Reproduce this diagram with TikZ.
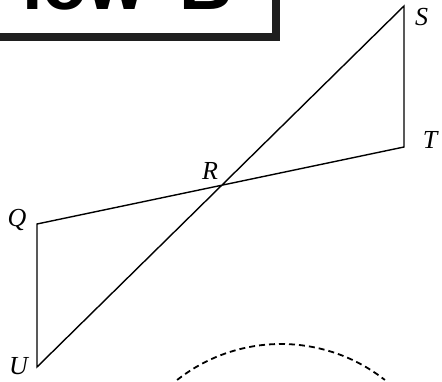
\documentclass[tikz,border=0pt]{standalone}
\usepackage{fontspec}
\setmainfont{Liberation Serif}
\newfontfamily\bannerfont{Liberation Sans}
\begin{document}
\begin{tikzpicture}[x=1pt,y=1pt,
  edge/.style={line width=1.4pt, line join=miter},
  vlabel/.style={font=\fontsize{26}{26}\selectfont\itshape, inner sep=0pt, anchor=base},
  arcline/.style={line width=1.8pt, dash pattern=on 6pt off 4pt},
  shadowband/.style={fill=black!88},
  bannertext/.style={anchor=base west, inner sep=0pt, font=\bannerfont\bfseries\fontsize{74}{74}\selectfont}]
\useasboundingbox (0,0) rectangle (442,381);
% banner box with shadow
\fill[shadowband] (-5,340) rectangle (280,348);
\fill[shadowband] (272,340) rectangle (280,386);
\node[bannertext] (title) at (22,371) {low\hspace{34pt}B};
% figure vertices
\coordinate (S) at (404,375);
\coordinate (T) at (404,234);
\coordinate (Q) at (37,157);
\coordinate (U) at (37,14);
\coordinate (R) at (intersection of S--U and Q--T);
\draw[edge] (Q) -- (T) -- (S) -- (U) -- cycle;
% labels
\node[vlabel] (lS) at (421.5,355) {S};
\node[vlabel] (lT) at (430,233) {T};
\node[vlabel] (lR) at (210,202) {R};
\node[vlabel] (lQ) at (17,155) {Q};
\node[vlabel] (lU) at (18.5,7) {U};
% dashed arc
\coordinate (arcC) at (281,-131);
\draw[arcline] ([shift={(128.2:168)}]arcC) arc[start angle=128.2, end angle=51.8, radius=168];
\end{tikzpicture}
\end{document}
